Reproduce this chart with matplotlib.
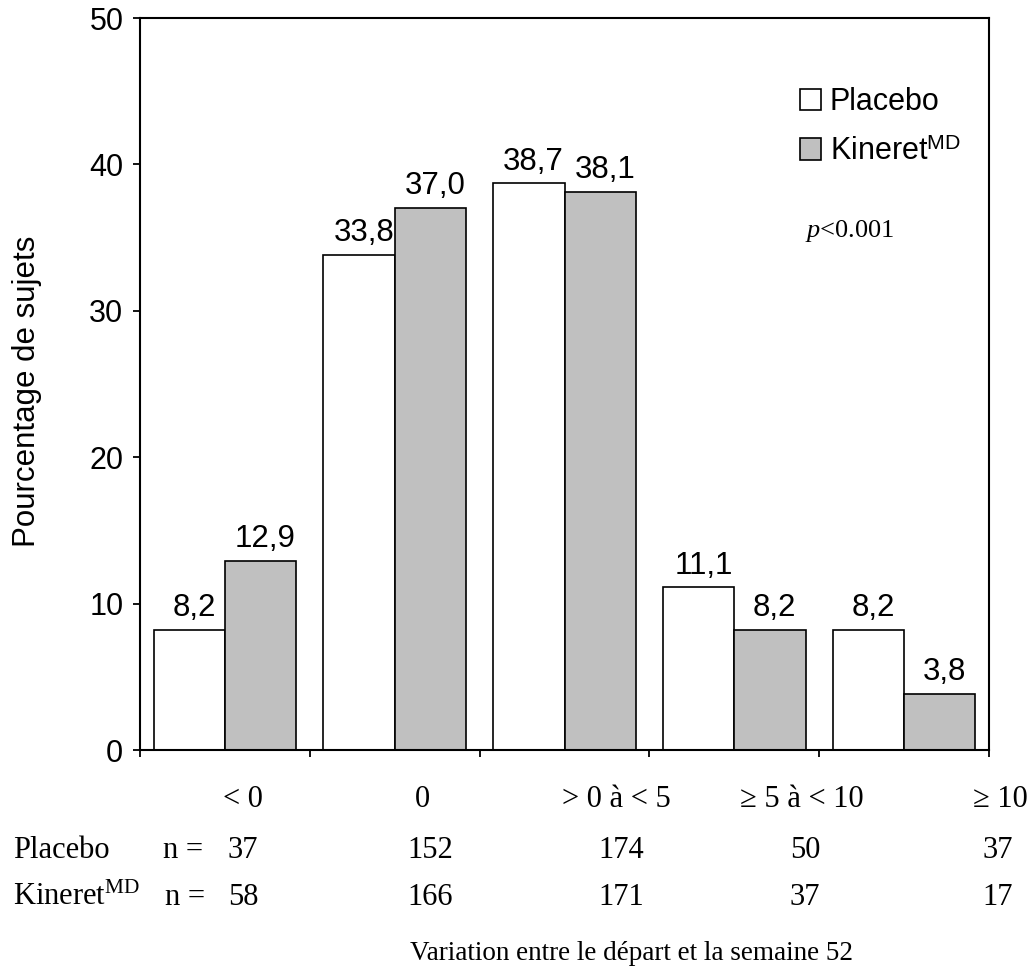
import matplotlib
matplotlib.use('Agg')
import matplotlib.pyplot as plt
from matplotlib.ticker import FixedLocator, NullFormatter

# ---- data ----
categories = ['< 0', '0', '> 0 à < 5', '≥ 5 à < 10', '≥ 10']
placebo = [8.2, 33.8, 38.7, 11.1, 8.2]
kineret = [12.9, 37.0, 38.1, 8.2, 3.8]
n_placebo = [37, 152, 174, 50, 37]
n_kineret = [58, 166, 171, 37, 17]
yticks = [0, 10, 20, 30, 40, 50]
series_names = ['Placebo', 'Kineret$^{\\mathsf{MD}}$']

plt.rcParams['mathtext.fontset'] = 'custom'
plt.rcParams['mathtext.rm'] = 'Liberation Serif'
plt.rcParams['mathtext.it'] = 'Liberation Serif:italic'
plt.rcParams['mathtext.sf'] = 'Liberation Sans'

W, H = 1033, 977
fig = plt.figure(figsize=(W / 100, H / 100), dpi=100)
ax = fig.add_axes([140 / W, (H - 750) / H, (989 - 140) / W, (750 - 18) / H])

SANS = ['Liberation Sans', 'DejaVu Sans']
SERIF = ['Liberation Serif', 'DejaVu Serif']

x = list(range(len(categories)))
bw = 0.42
b1 = ax.bar([i - bw / 2 for i in x], placebo, width=bw, color='white',
            edgecolor='black', linewidth=1.2, label=series_names[0])
b2 = ax.bar([i + bw / 2 for i in x], kineret, width=bw, color='#C0C0C0',
            edgecolor='black', linewidth=1.2, label=series_names[1])

for bars, vals in ((b1, placebo), (b2, kineret)):
    for r, v in zip(bars, vals):
        ax.annotate(f"{v:.1f}".replace('.', ','),
                    (r.get_x() + r.get_width() / 2, r.get_height()),
                    xytext=(3.5, 10), textcoords='offset points',
                    ha='center', va='baseline', fontsize=22.5, family=SANS)

ax.set_xlim(-0.5, len(categories) - 0.5)
ax.set_ylim(0, 50)
ax.set_yticks(yticks)
ax.set_yticklabels([str(t) for t in yticks], family=SANS, fontsize=22)
ax.xaxis.set_major_locator(FixedLocator([i - 0.5 for i in range(len(categories) + 1)]))
ax.xaxis.set_major_formatter(NullFormatter())
ax.tick_params(axis='both', direction='out', length=5, width=1.3, pad=7)
for s in ax.spines.values():
    s.set_linewidth(1.5)

fig.text(27 / W, 1 - 391 / H, 'Pourcentage de sujets', rotation=90,
         ha='center', va='center', fontsize=22.5, family=SANS)

leg = ax.legend(handles=[b1, b2], loc='upper left',
                bbox_to_anchor=(800 / W, 1 - 87 / H), bbox_transform=fig.transFigure,
                frameon=False, prop={'family': SANS, 'size': 22},
                handlelength=0.7, handleheight=0.7, handletextpad=0.27,
                labelspacing=0.65, borderpad=0, borderaxespad=0)

fig.text(805 / W, 1 - 237 / H, '$p$<0.001', ha='left', va='baseline',
         fontsize=19, family=SERIF)

def ftext(px, py, s, **kw):
    fig.text(px / W, 1 - py / H, s, va='baseline', family=SERIF, **kw)

cat_x = [243, 422, 616, 802, 1000]
num_x = [243, 430, 621, 805, 998]
for cx, c in zip(cat_x, categories):
    ftext(cx, 807, c, ha='center', fontsize=22)

ftext(13, 858, 'Placebo', ha='left', fontsize=22)
ftext(163, 858, 'n =', ha='left', fontsize=22)
ftext(13, 905, 'Kineret$^{\\mathrm{MD}}$', ha='left', fontsize=22)
ftext(165, 905, 'n =', ha='left', fontsize=22)
for cx, n1, n2 in zip(num_x, n_placebo, n_kineret):
    ftext(cx, 858, str(n1), ha='center', fontsize=22)
    ftext(cx, 905, str(n2), ha='center', fontsize=22)

ftext(632, 960, 'Variation entre le départ et la semaine 52', ha='center', fontsize=19.5)

fig.savefig('out.png', dpi=100)
